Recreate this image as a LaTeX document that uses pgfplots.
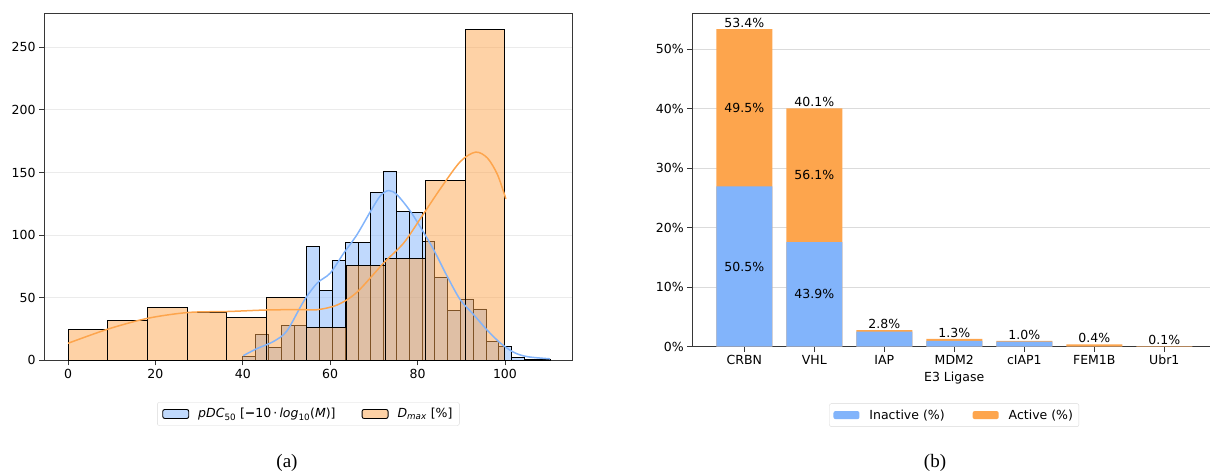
\documentclass[border=0pt]{standalone}
\usepackage{fontspec}
\setmainfont{Liberation Serif}
\setsansfont{DejaVu Sans}
\usepackage{pgfplots}
\pgfplotsset{compat=1.18}
\definecolor{blueR}{RGB}{130,180,251}
\definecolor{orangeR}{RGB}{253,165,77}
\definecolor{spine}{RGB}{55,55,55}
\newcommand{\mpl}{\sffamily\fontsize{12.5}{15}\selectfont}

\begin{document}
\begin{tikzpicture}[x=1pt,y=1pt]
\useasboundingbox (0,0) rectangle (1210,-475);

% ---------------- (a) histogram ----------------
\begin{axis}[
  at={(44pt,-360.3pt)}, anchor=south west, scale only axis,
  width=528.7pt, height=346.8pt,
  xmin=-5.5, xmax=115.5, ymin=0, ymax=277,
  xtick={0,20,...,100}, ytick={0,50,...,250},
  axis line style={spine, line width=1pt},
  tick align=outside, major tick length=5pt,
  tick style={spine, line width=0.9pt},
  xtick pos=bottom, ytick pos=left,
  ymajorgrids, grid style={black!8, line width=0.9pt},
  tick label style={font=\mpl},
  /pgf/number format/assume math mode=true,
  legend image code/.code={\draw[#1] (0pt,-4.5pt) rectangle (26pt,4.5pt);},
  legend style={at={(0.5,-0.121)}, anchor=north, legend columns=2,
    draw=black!15, rounded corners=2pt, font=\mpl,
    /tikz/every odd column/.append style={column sep=7pt},
    /tikz/every even column/.append style={column sep=24pt},
    inner xsep=5pt, inner ysep=4pt},
  legend cell align=left,
]
% pDC50 histogram (24 bins, 40 -> 110.32)
\addplot[ybar interval, fill=blueR, fill opacity=0.5, draw=black, line width=0.9pt, forget plot]
coordinates {
(40.00,3) (42.93,21) (45.86,10) (48.79,28) (51.72,28) (54.65,91) (57.58,56) (60.51,80)
(63.44,94) (66.37,94) (69.30,134) (72.23,151) (75.16,119) (78.09,118) (81.02,95) (83.95,66)
(86.88,40) (89.81,49) (92.74,41) (95.67,15) (98.60,11) (101.53,2) (104.46,1) (107.39,1) (110.32,1)
};
% Dmax histogram (11 bins, 0 -> 100)
\addplot[ybar interval, fill=orangeR, fill opacity=0.5, draw=black, line width=1pt, forget plot]
coordinates {
(0.000,25) (9.091,32) (18.182,42) (27.273,38) (36.364,34) (45.455,50) (54.545,26)
(63.636,76) (72.727,81) (81.818,144) (90.909,264) (100.000,264)
};
% KDE pDC50
\addplot[blueR, line width=1.5pt, smooth, forget plot] coordinates {
(40.1,3.7) (43.2,9.3) (47,15) (50.1,23.5) (53.9,47) (57,61.6) (60,69.6) (63.1,85.6)
(66.1,100.2) (69.2,118.8) (71.5,131.5) (73.4,135.6) (75.3,132.2) (78.4,118.8) (81.4,102)
(83.7,88.2) (86.8,66.9) (89.8,48.2) (92.9,36.2) (95.9,24.2) (99,13.6) (102,6.4) (105.1,2.9) (110.3,1.2)
};
% KDE Dmax
\addplot[orangeR, line width=1.5pt, smooth, forget plot] coordinates {
(0,13.6) (9.2,25) (18.3,33.6) (27.5,38.2) (36.7,39) (45.5,40.2) (53.1,40.5) (57,40.4)
(61.6,44.2) (66.1,54.3) (72.2,77.6) (76.8,93.6) (80.7,113.5) (85.3,137.5) (89.8,158.8)
(93.3,166.3) (96,161.5) (98.3,148.2) (100.2,129)
};
\addlegendimage{fill=blueR, fill opacity=0.5, draw=black, line width=0.9pt}
\addlegendentry{\textit{pDC}\textsubscript{50} [\textbf{−}10\,·\,\textit{log}\textsubscript{10}(\textit{M})]}
\addlegendimage{fill=orangeR, fill opacity=0.5, draw=black, line width=0.9pt}
\addlegendentry{\textit{D}\textsubscript{\textit{max}} [\%]}
\end{axis}

% ---------------- (b) stacked bars ----------------
\begin{axis}[
  at={(692.3pt,-346.7pt)}, anchor=south west, scale only axis,
  width=523.8pt, height=333.4pt,
  xmin=-0.743, xmax=6.74, ymin=0, ymax=56.07,
  xtick={0,1,2,3,4,5,6}, xticklabels={CRBN,VHL,IAP,MDM2,cIAP1,FEM1B,Ubr1},
  ytick={0,10,20,30,40,50}, yticklabels={0\%,10\%,20\%,30\%,40\%,50\%},
  xlabel={E3 Ligase}, label style={font=\mpl},
  axis line style={spine, line width=1pt},
  tick align=outside, major tick length=5pt,
  tick style={spine, line width=0.9pt},
  xtick pos=bottom, ytick pos=left,
  ymajorgrids, grid style={black!14, line width=0.9pt},
  tick label style={font=\mpl},
  legend image code/.code={\fill[#1] (0pt,-4pt) rectangle (26pt,4pt);},
  legend style={at={(0.5,-0.17)}, anchor=north, legend columns=2,
    draw=black!15, rounded corners=2pt, font=\mpl,
    /tikz/every odd column/.append style={column sep=8pt},
    /tikz/every even column/.append style={column sep=26pt},
    inner xsep=4pt, inner ysep=4pt},
  legend cell align=left,
]
% total share (active part visible on top)
\addplot[ybar, bar width=0.8, bar shift=0pt, fill=orangeR, draw=none, forget plot]
coordinates {(0,53.4) (1,40.1) (2,2.8) (3,1.3) (4,1.0) (5,0.4) (6,0.1)};
% inactive share
\addplot[ybar, bar width=0.8, bar shift=0pt, fill=blueR, draw=none, forget plot]
coordinates {(0,26.97) (1,17.60) (2,2.52) (3,1.00) (4,0.87) (5,0.0) (6,0.0)};
% totals above bars
\addplot[draw=none, mark=none, forget plot, nodes near coords, point meta=explicit symbolic,
  every node near coord/.append style={font=\mpl, anchor=south, inner sep=1pt}]
coordinates {(0,53.4) [53.4\%] (1,40.1) [40.1\%] (2,2.8) [2.8\%] (3,1.3) [1.3\%]
 (4,1.0) [1.0\%] (5,0.4) [0.4\%] (6,0.1) [0.1\%]};
% shares inside segments
\addplot[draw=none, mark=none, forget plot, nodes near coords, point meta=explicit symbolic,
  every node near coord/.append style={font=\mpl, anchor=center, inner sep=0pt}]
coordinates {(0,13.49) [50.5\%] (0,40.19) [49.5\%] (1,8.80) [43.9\%] (1,28.85) [56.1\%]};
\addlegendimage{fill=blueR, draw=none}
\addlegendentry{Inactive (\%)}
\addlegendimage{fill=orangeR, draw=none}
\addlegendentry{Active (\%)}
\end{axis}

\node[font=\fontsize{19}{22}\selectfont] at (287,-463) {(a)};
\node[font=\fontsize{19}{22}\selectfont] at (935,-463) {(b)};
\end{tikzpicture}
\end{document}
